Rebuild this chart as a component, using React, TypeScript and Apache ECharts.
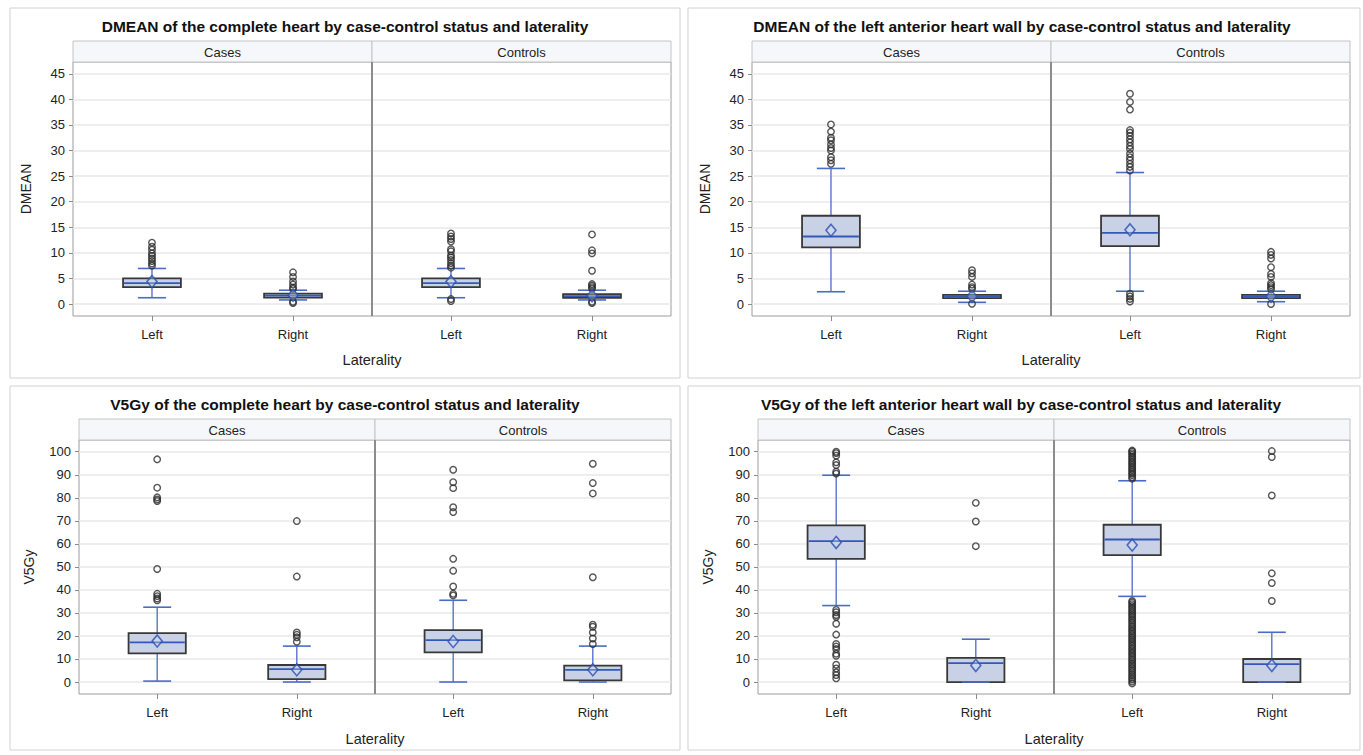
import React, { useEffect, useRef } from 'react';
import * as echarts from 'echarts';

// ---------- categories & ticks ----------
const laterality = ['Left', 'Right'];
const facetNames = ['Cases', 'Controls'];
const dmeanTicks = [0, 5, 10, 15, 20, 25, 30, 35, 40, 45];
const v5Ticks = [0, 10, 20, 30, 40, 50, 60, 70, 80, 90, 100];

// ---------- Panel A: DMEAN complete heart ----------
// box rows: [lower whisker, Q1, median, Q3, upper whisker] for Left, Right
const aCasesBox = [[1.23, 3.3, 4.1, 5.0, 6.95], [0.8, 1.25, 1.65, 2.05, 2.7]];
const aCasesMean = [4.4, 1.7];
const aCasesOutLeft = [7.5, 7.9, 8.4, 8.9, 9.4, 9.9, 10.6, 11.2, 12.0];
const aCasesOutRight = [0.2, 0.45, 2.95, 3.25, 3.8, 4.4, 5.3, 6.2];
const aControlsBox = [[1.23, 3.3, 4.1, 5.0, 6.95], [0.8, 1.2, 1.55, 1.95, 2.7]];
const aControlsMean = [4.4, 1.6];
const aControlsOutLeft = [0.6, 0.97, 7.1, 7.5, 8.0, 8.6, 9.1, 9.5, 10.3, 10.7, 12.2, 12.7, 13.2, 13.8];
const aControlsOutRight = [0.2, 0.45, 3.0, 3.3, 3.6, 3.9, 6.5, 9.9, 10.5, 13.6];

// ---------- Panel B: DMEAN left anterior heart wall ----------
const bCasesBox = [[2.4, 11.07, 13.2, 17.25, 26.5], [0.33, 1.17, 1.5, 1.8, 2.5]];
const bCasesMean = [14.4, 1.5];
const bCasesOutLeft = [27.4, 28.1, 28.7, 30.0, 30.5, 31.2, 32.0, 32.5, 33.7, 35.1];
const bCasesOutRight = [0.05, 3.0, 3.3, 3.8, 5.3, 6.0, 6.6];
const bControlsBox = [[2.5, 11.3, 13.9, 17.25, 25.7], [0.45, 1.15, 1.45, 1.8, 2.5]];
const bControlsMean = [14.5, 1.5];
const bControlsOutLeft = [0.5, 1.0, 1.5, 2.0, 26.1, 26.8, 27.4, 28.1, 28.7, 29.4, 30.3, 30.9, 31.6, 32.2, 32.9, 33.5, 34.0, 38.0, 39.5, 41.1];
const bControlsOutRight = [0.0, 2.9, 3.3, 3.7, 4.1, 5.3, 5.9, 7.2, 8.9, 9.6, 10.2];

// ---------- Panel C: V5Gy complete heart ----------
const cCasesBox = [[0.4, 12.4, 17.2, 21.2, 32.5], [0.0, 1.3, 5.6, 7.4, 15.6]];
const cCasesMean = [17.8, 5.3];
const cCasesOutLeft = [35.5, 36.3, 37.3, 38.3, 49.1, 78.6, 79.3, 80.2, 84.4, 96.7];
const cCasesOutRight = [17.5, 19.4, 20.5, 21.5, 45.8, 69.9];
const cControlsBox = [[0.0, 12.9, 18.2, 22.5, 35.5], [0.0, 0.7, 5.3, 7.1, 15.6]];
const cControlsMean = [17.6, 5.3];
const cControlsOutLeft = [37.6, 38.3, 41.5, 48.3, 53.5, 73.8, 75.9, 84.2, 86.8, 92.2];
const cControlsOutRight = [16.5, 18.9, 21.5, 24.0, 24.9, 45.5, 81.9, 86.4, 94.8];

// ---------- Panel D: V5Gy left anterior heart wall ----------
const dCasesBox = [[33.2, 53.5, 61.2, 68.0, 89.8], [0.0, 0.0, 8.2, 10.5, 18.6]];
const dCasesMean = [60.6, 7.2];
const dCasesOutLeft = [1.6, 3.0, 4.2, 5.9, 7.5, 11.4, 12.3, 14.3, 15.4, 16.5, 20.6, 25.3, 28.3, 29.1, 30.3, 31.3, 90.5, 91.3, 94.2, 95.4, 98.3, 99.4, 100.0];
const dCasesOutRight = [59.0, 69.7, 77.8];
const dControlsBox = [[37.2, 55.1, 61.9, 68.3, 87.4], [0.0, 0.0, 7.8, 10.0, 21.6]];
const dControlsMean = [59.5, 7.2];
const dControlsOutLeft = [-0.6, 0.2, 1.1, 1.8, 2.7, 3.4, 4.3, 5.0, 5.9, 6.6, 7.5, 8.2, 9.1, 9.8, 10.7, 11.4, 12.3, 13.0, 13.9, 14.6, 15.5, 16.2, 17.1, 17.8, 18.7, 19.4, 20.3, 21.0, 21.9, 22.6, 23.5, 24.2, 25.1, 25.8, 26.7, 27.4, 28.3, 29.1, 29.9, 30.7, 31.5, 32.2, 33.0, 33.8, 34.6, 35.2, 88.3, 89.0, 89.9, 90.6, 91.3, 92.1, 92.8, 93.5, 94.3, 95.0, 95.7, 96.5, 97.2, 97.9, 98.7, 99.4, 100.1, 100.5];
const dControlsOutRight = [35.2, 43.0, 47.2, 81.0, 97.7, 100.3];

// ---------- styles ----------
const FONT = "'Liberation Sans', Arial, Helvetica, sans-serif";
const BOX_FILL = '#c8d1e6';
const BOX_STROKE = '#383838';
const WHISKER = '#4a6cc4';
const MEDIAN = '#3358b8';
const MEAN = '#2a4fb0';
const GRID_LINE = '#e8e8e8';
const FRAME = '#9c9c9c';

type Facet = { box: number[][]; mean: number[]; outL: number[]; outR: number[] };
type Panel = {
  title: string; yName: string; ticks: number[]; yMin: number; yMax: number;
  frame: number[]; plotL: number; plotR: number; plotT: number; plotB: number;
  titleX: number; titleY: number; stripT: number; xlabY: number; nameGap: number;
  facets: Facet[];
};

const panels: Panel[] = [
  {
    title: 'DMEAN of the complete heart by case-control status and laterality', yName: 'DMEAN',
    ticks: dmeanTicks, yMin: -2.34, yMax: 47.3,
    frame: [10, 8, 670, 370], plotL: 73, plotR: 671, plotT: 62, plotB: 316,
    titleX: 345, titleY: 26, stripT: 41, xlabY: 360, nameGap: 40,
    facets: [
      { box: aCasesBox, mean: aCasesMean, outL: aCasesOutLeft, outR: aCasesOutRight },
      { box: aControlsBox, mean: aControlsMean, outL: aControlsOutLeft, outR: aControlsOutRight },
    ],
  },
  {
    title: 'DMEAN of the left anterior heart wall by case-control status and laterality', yName: 'DMEAN',
    ticks: dmeanTicks, yMin: -2.34, yMax: 47.3,
    frame: [688, 8, 672, 370], plotL: 752, plotR: 1350, plotT: 62, plotB: 316,
    titleX: 1022, titleY: 26, stripT: 41, xlabY: 360, nameGap: 40,
    facets: [
      { box: bCasesBox, mean: bCasesMean, outL: bCasesOutLeft, outR: bCasesOutRight },
      { box: bControlsBox, mean: bControlsMean, outL: bControlsOutLeft, outR: bControlsOutRight },
    ],
  },
  {
    title: 'V5Gy of the complete heart by case-control status and laterality', yName: 'V5Gy',
    ticks: v5Ticks, yMin: -5.2, yMax: 105.1,
    frame: [10, 386, 670, 364], plotL: 79, plotR: 671, plotT: 440, plotB: 694,
    titleX: 345, titleY: 404, stripT: 419, xlabY: 739, nameGap: 43,
    facets: [
      { box: cCasesBox, mean: cCasesMean, outL: cCasesOutLeft, outR: cCasesOutRight },
      { box: cControlsBox, mean: cControlsMean, outL: cControlsOutLeft, outR: cControlsOutRight },
    ],
  },
  {
    title: 'V5Gy of the left anterior heart wall by case-control status and laterality', yName: 'V5Gy',
    ticks: v5Ticks, yMin: -5.2, yMax: 105.1,
    frame: [688, 386, 672, 364], plotL: 758, plotR: 1350, plotT: 440, plotB: 694,
    titleX: 1021, titleY: 404, stripT: 419, xlabY: 739, nameGap: 43,
    facets: [
      { box: dCasesBox, mean: dCasesMean, outL: dCasesOutLeft, outR: dCasesOutRight },
      { box: dControlsBox, mean: dControlsMean, outL: dControlsOutLeft, outR: dControlsOutRight },
    ],
  },
];

const renderBox = (params: any, api: any) => {
  const xv = api.value(0);
  const pLow = api.coord([xv, api.value(1)]);
  const pQ1 = api.coord([xv, api.value(2)]);
  const pMed = api.coord([xv, api.value(3)]);
  const pQ3 = api.coord([xv, api.value(4)]);
  const pHigh = api.coord([xv, api.value(5)]);
  const unit = api.size([1, 0])[0];
  const bw = unit * 0.41;
  const cw = unit * 0.2;
  const cx = pMed[0];
  const wStyle = { stroke: WHISKER, lineWidth: 1.3 };
  return {
    type: 'group',
    children: [
      { type: 'line', shape: { x1: cx, y1: pHigh[1], x2: cx, y2: pQ3[1] }, style: wStyle },
      { type: 'line', shape: { x1: cx, y1: pQ1[1], x2: cx, y2: pLow[1] }, style: wStyle },
      {
        type: 'rect',
        shape: { x: cx - bw / 2, y: pQ3[1], width: bw, height: Math.max(pQ1[1] - pQ3[1], 0.5) },
        style: { fill: BOX_FILL, stroke: BOX_STROKE, lineWidth: 1.8 },
      },
      { type: 'line', shape: { x1: cx - cw / 2, y1: pHigh[1], x2: cx + cw / 2, y2: pHigh[1] }, style: { stroke: WHISKER, lineWidth: 1.6 } },
      { type: 'line', shape: { x1: cx - cw / 2, y1: pLow[1], x2: cx + cw / 2, y2: pLow[1] }, style: { stroke: WHISKER, lineWidth: 1.6 } },
      { type: 'line', shape: { x1: cx - bw / 2 + 1, y1: pMed[1], x2: cx + bw / 2 - 1, y2: pMed[1] }, style: { stroke: MEDIAN, lineWidth: 1.8 } },
    ],
  };
};

function buildOption() {
  const grid: any[] = [];
  const xAxis: any[] = [];
  const yAxis: any[] = [];
  const series: any[] = [];
  const graphic: any[] = [];

  panels.forEach((p, pi) => {
    const [fx, fy, fw, fh] = p.frame;
    graphic.push({ type: 'rect', shape: { x: fx, y: fy, width: fw, height: fh }, style: { fill: '#fff', stroke: '#d2d2d2', lineWidth: 1 }, z: -10 });
    graphic.push({
      type: 'text', x: p.titleX, y: p.titleY,
      style: { text: p.title, fill: '#111', font: `bold 15.5px ${FONT}`, textAlign: 'center', textVerticalAlign: 'middle' },
    });
    const mid = Math.round((p.plotL + p.plotR) / 2);
    const widths = [mid - p.plotL, p.plotR - mid];
    const lefts = [p.plotL, mid];
    // strips
    for (let f = 0; f < 2; f++) {
      graphic.push({
        type: 'rect', shape: { x: lefts[f], y: p.stripT, width: widths[f], height: p.plotT - p.stripT },
        style: { fill: '#f6f7fb', stroke: '#c4c4c4', lineWidth: 1 },
      });
      graphic.push({
        type: 'text', x: lefts[f] + widths[f] / 2, y: (p.stripT + p.plotT) / 2 + 0.5,
        style: { text: facetNames[f], fill: '#222', font: `13px ${FONT}`, textAlign: 'center', textVerticalAlign: 'middle' },
      });
    }
    graphic.push({
      type: 'text', x: mid, y: p.xlabY,
      style: { text: 'Laterality', fill: '#222', font: `14.5px ${FONT}`, textAlign: 'center', textVerticalAlign: 'middle' },
    });
    // facet divider (slightly heavier, as in the reference)
    graphic.push({
      type: 'line', shape: { x1: mid, y1: p.plotT, x2: mid, y2: p.plotB },
      style: { stroke: '#8c8c8c', lineWidth: 2 }, z: 50,
    });

    p.facets.forEach((fc, f) => {
      const g = pi * 2 + f;
      grid.push({
        left: lefts[f], top: p.plotT, width: widths[f], height: p.plotB - p.plotT,
        show: true, borderColor: FRAME, borderWidth: 1, backgroundColor: '#fff', containLabel: false,
      });
      xAxis.push({
        type: 'value', gridIndex: g, min: -0.56, max: 1.56, position: 'bottom',
        axisLine: { show: false, onZero: false },
        axisTick: { show: true, customValues: [0, 1], length: 5, lineStyle: { color: '#8a8a8a' } },
        axisLabel: {
          show: true, customValues: [0, 1], margin: 12, fontSize: 13, color: '#222', fontFamily: FONT,
          formatter: (v: number) => laterality[Math.round(v)] ?? '',
        },
        splitLine: { show: false },
      });
      yAxis.push({
        type: 'value', gridIndex: g, min: p.yMin, max: p.yMax, position: 'left',
        name: f === 0 ? p.yName : '',
        nameLocation: 'middle', nameRotate: 90, nameGap: p.nameGap,
        nameTextStyle: { fontSize: 14, color: '#222', fontFamily: FONT },
        axisLine: { show: false, onZero: false },
        axisTick: { show: f === 0, customValues: p.ticks, length: 4, lineStyle: { color: '#8a8a8a' } },
        axisLabel: { show: f === 0, customValues: p.ticks, margin: 8, fontSize: 13, color: '#222', fontFamily: FONT },
        splitLine: { show: true, lineStyle: { color: GRID_LINE, width: 1.5 } },
      });
      series.push({
        type: 'custom', xAxisIndex: g, yAxisIndex: g,
        data: fc.box.map((b, i) => [i, ...b]),
        encode: { x: 0, y: [1, 2, 3, 4, 5] },
        renderItem: renderBox, z: 2, silent: true,
      });
      series.push({
        type: 'scatter', xAxisIndex: g, yAxisIndex: g,
        data: [...fc.outL.map((v) => [0, v]), ...fc.outR.map((v) => [1, v])],
        symbol: 'circle', symbolSize: 6.5,
        itemStyle: { color: 'rgba(255,255,255,0)', borderColor: '#2a2a2a', borderWidth: 1.4 },
        z: 3, silent: true,
      });
      series.push({
        type: 'scatter', xAxisIndex: g, yAxisIndex: g,
        data: fc.mean.map((v, i) => [i, v]),
        symbol: 'diamond', symbolSize: [10, 12],
        itemStyle: { color: 'rgba(220,228,244,0.4)', borderColor: MEAN, borderWidth: 1.6 },
        z: 4, silent: true,
      });
    });
  });

  return { animation: false, backgroundColor: '#ffffff', grid, xAxis, yAxis, series, graphic };
}

export default function App() {
  const ref = useRef<HTMLDivElement>(null);
  useEffect(() => {
    if (!ref.current) return;
    const chart = echarts.init(ref.current, undefined, { renderer: 'svg' });
    chart.setOption(buildOption() as any);
    return () => chart.dispose();
  }, []);
  return (
    <div
      ref={ref}
      style={{ position: 'fixed', left: 0, top: 0, width: 1363, height: 755, background: '#fff' }}
    />
  );
}
